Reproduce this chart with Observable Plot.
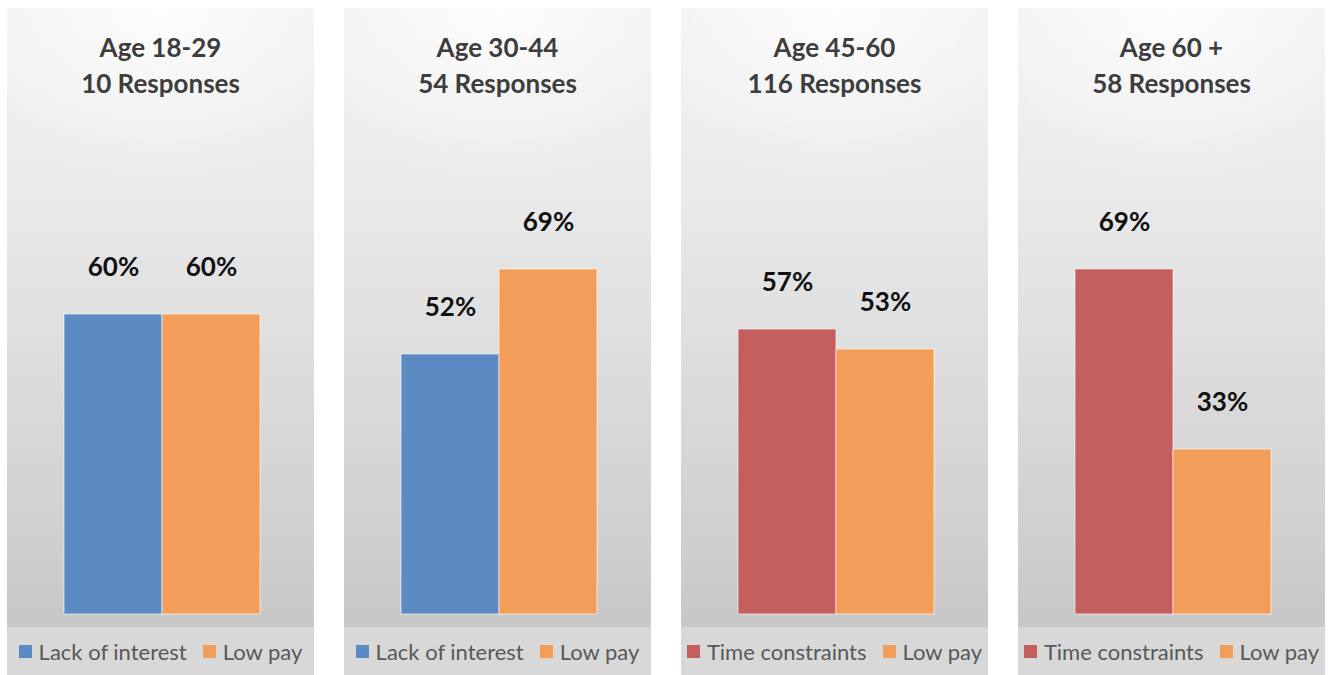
<!DOCTYPE html>
<html>
<head>
<meta charset="utf-8">
<script src="https://cdn.jsdelivr.net/npm/d3@7"></script>
<script src="https://cdn.jsdelivr.net/npm/@observablehq/plot@0.6"></script>
<style>
  html, body { margin: 0; padding: 0; background: #ffffff; }
  body { width: 1329px; height: 675px; position: relative; overflow: hidden; font-family: Lato, "Open Sans", sans-serif; }
  .panel {
    position: absolute; top: 8px; width: 307px; height: 667px; overflow: hidden;
    background:
      radial-gradient(ellipse 75% 26% at 50% 0%, rgba(255,255,255,0.85) 0%, rgba(255,255,255,0) 100%),
      linear-gradient(to bottom, #f1f1f1 0%, #ebebeb 25%, #dcdcdc 55%, #cfcfcf 80%, #c7c7c7 93%);
  }
  .title {
    position: absolute; left: 0; top: 21px; width: 100%; text-align: center;
    font-weight: 700; font-size: 26px; line-height: 36px; color: #3d3d3d;
  }
  .plot { position: absolute; left: 0; top: 92px; }
  .legend {
    position: absolute; left: 0; top: 619px; width: 100%; height: 48px; background: #d8d8d8;
    display: flex; align-items: center; justify-content: center; gap: 16px;
    font-size: 22px; color: #595959;
  }
  .item { display: flex; align-items: center; gap: 7px; white-space: nowrap; }
  .sw { width: 13px; height: 13px; display: inline-block; }
</style>
</head>
<body>
<script>
const ageGroups = ["Age 18-29", "Age 30-44", "Age 45-60", "Age 60 +"];
const responses = [10, 54, 116, 58];
const firstReason = ["Lack of interest", "Lack of interest", "Time constraints", "Time constraints"];
const firstPct = [60, 52, 57, 69];
const secondReason = ["Low pay", "Low pay", "Low pay", "Low pay"];
const secondPct = [60, 69, 53, 33];

const reasonDomain = ["Lack of interest", "Time constraints", "Low pay"];
const reasonColors = ["#5b8bc2", "#c45f5e", "#f29e5a"];
const colorOf = d3.scaleOrdinal(reasonDomain, reasonColors);

ageGroups.forEach((age, i) => {
  const panel = document.createElement("div");
  panel.className = "panel";
  panel.style.left = (7 + i * 337) + "px";
  document.body.appendChild(panel);

  const title = document.createElement("div");
  title.className = "title";
  title.innerHTML = `${age}<br>${responses[i]} Responses`;
  panel.appendChild(title);

  const rows = [
    {reason: firstReason[i], pct: firstPct[i]},
    {reason: secondReason[i], pct: secondPct[i]}
  ];

  const chart = Plot.plot({
    width: 307,
    height: 520,
    marginTop: 14,
    marginBottom: 6,
    marginLeft: 56,
    marginRight: 54,
    style: {background: "transparent", fontFamily: "Lato, 'Open Sans', sans-serif", overflow: "visible"},
    x: {domain: rows.map(d => d.reason), padding: 0, axis: null},
    y: {domain: [0, 100], axis: null},
    color: {domain: reasonDomain, range: reasonColors},
    marks: [
      Plot.barY(rows, {x: "reason", y: "pct", fill: "reason", stroke: "#ffffff", strokeOpacity: 0.6, strokeWidth: 1}),
      Plot.text(rows, {x: "reason", y: "pct", text: d => `${d.pct}%`, dy: -47, fontSize: 26, fontWeight: "bold", fill: "#111111"})
    ]
  });
  chart.classList.add("plot");
  panel.appendChild(chart);

  const legend = document.createElement("div");
  legend.className = "legend";
  [firstReason[i], secondReason[i]].forEach(r => {
    const item = document.createElement("span");
    item.className = "item";
    item.innerHTML = `<span class="sw" style="background:${colorOf(r)}"></span><span>${r}</span>`;
    legend.appendChild(item);
  });
  panel.appendChild(legend);
});
</script>
</body>
</html>
